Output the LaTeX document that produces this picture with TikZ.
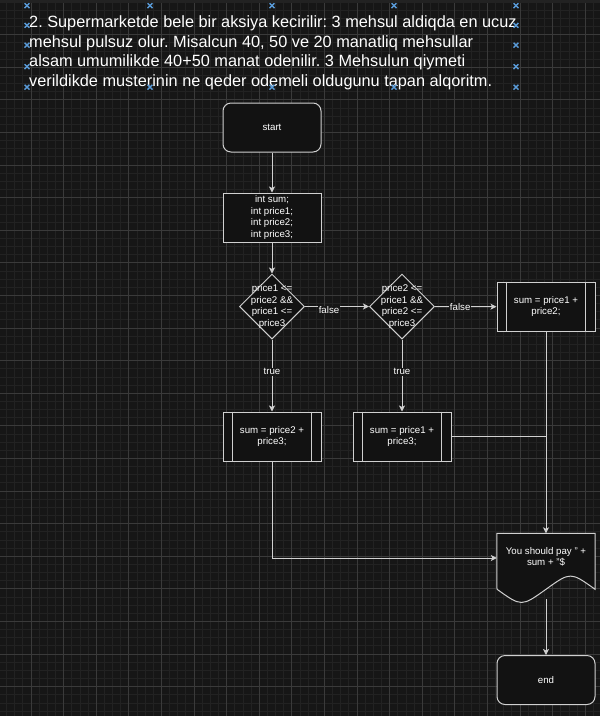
\documentclass[tikz,border=0pt]{standalone}
\usepackage{fontspec}
\setmainfont{Liberation Sans}
\usetikzlibrary{shapes.geometric,arrows.meta}
\frenchspacing
\definecolor{bg}{HTML}{161616}
\definecolor{topband}{HTML}{222222}
\definecolor{gridminor}{HTML}{222222}
\definecolor{gridmajor}{HTML}{3A3A3A}
\definecolor{shapefill}{HTML}{121212}
\definecolor{strokec}{HTML}{D0D0D0}
\definecolor{handlec}{HTML}{5A9BD8}
\tikzset{
  box/.style={draw=strokec, fill=shapefill, line width=1pt, rectangle, minimum width=98, minimum height=49, inner sep=0pt, text=white, font=\fontsize{9.7}{11.5}\selectfont, align=center},
  term/.style={box, rounded corners=8pt},
  decision/.style={draw=strokec, fill=shapefill, line width=1pt, diamond, aspect=1, minimum width=65, minimum height=65, inner sep=0pt},
  txt/.style={text=white, font=\fontsize{9.7}{11.4}\selectfont, align=center, inner sep=0pt},
  lbl/.style={text=white, font=\fontsize{9.7}{11.4}\selectfont, fill=bg, inner sep=0.6pt},
  conn/.style={draw=strokec, line width=1pt},
  arr/.style={conn, -{Stealth[length=6pt,width=6pt,inset=1.5pt]}},
  title/.style={text=white, font=\fontsize{16.3}{19.6}\selectfont, anchor=base west, inner sep=0pt},
  handle/.style={draw=handlec, line width=1.4pt}
}
\begin{document}
\begin{tikzpicture}[x=1pt,y=-1pt]
\useasboundingbox (0,0) rectangle (600,716);
\fill[bg] (0,0) rectangle (600,716);
% grid
\foreach \k in {0,...,73} {
  \draw[gridminor, line width=0.8pt] ({6.55+8.15*\k},0) -- ({6.55+8.15*\k},716);
}
\foreach \k in {0,...,88} {
  \draw[gridminor, line width=0.8pt] (0,{2+8.15*\k}) -- (600,{2+8.15*\k});
}
\foreach \k in {0,...,18} {
  \draw[gridmajor, line width=0.9pt] ({31+32.6*\k},0) -- ({31+32.6*\k},716);
}
\foreach \k in {0,...,22} {
  \draw[gridmajor, line width=0.9pt] (0,{2+32.6*\k}) -- (600,{2+32.6*\k});
}
\fill[topband] (0,0) rectangle (600,3);

% title
\node[title] (t1) at (29,27.3) {2. Supermarketde bele bir aksiya kecirilir: 3 mehsul aldiqda en ucuz};
\node[title] (t2) at (29,47.0) {mehsul pulsuz olur. Misalcun 40, 50 ve 20 manatliq mehsullar};
\node[title] (t3) at (29,66.7) {alsam umumilikde 40+50 manat odenilir. 3 Mehsulun qiymeti};
\node[title] (t4) at (29,86.3) {verildikde musterinin ne qeder odemeli oldugunu tapan alqoritm.};

% selection handles
\foreach \hx/\hy in {27/5.7,150/5.7,272/5.7,394/5.7,516/5.7,
                     27/25.3,27/45.2,27/66.7,27/87.2,
                     516/25.3,516/45.2,516/66.7,516/87.2,
                     150/87.2,272/87.2,394/87.2} {
  \draw[handle] (\hx-2.4,\hy-2.4) -- (\hx+2.4,\hy+2.4);
  \draw[handle] (\hx-2.4,\hy+2.4) -- (\hx+2.4,\hy-2.4);
}

% nodes
\node[term] (start) at (272,127.5) {start};
\node[box] (decl) at (272,217.5) {int sum;\\int price1;\\int price2;\\int price3;};
\node[decision] (d1) at (272,306.5) {};
\node[txt] (d1t) at (272,306.5) {price1 <=\\price2 \&\&\\price1 <=\\price3};
\node[decision] (d2) at (402,306.5) {};
\node[txt] (d2t) at (402,306.5) {price2 <=\\price1 \&\&\\price2 <=\\price3};
\node[box] (p3) at (546,306.7) {sum = price1 +\\price2;};
\node[box] (p1) at (272,436.5) {sum = price2 +\\price3;};
\node[box] (p2) at (402,436.5) {sum = price1 +\\price3;};
\foreach \n in {p1,p2,p3} {
  \draw[conn] ([xshift=9.8pt]\n.north west) -- ([xshift=9.8pt]\n.south west);
  \draw[conn] ([xshift=-9.8pt]\n.north east) -- ([xshift=-9.8pt]\n.south east);
}
% document shape
\node[minimum width=98, minimum height=65, inner sep=0pt] (doc) at (546,566) {};
\draw[conn, fill=shapefill] (doc.north west) -- (doc.north east) -- (595,589.25)
   .. controls (570.5,571.7) .. (546,589.25)
   .. controls (521.5,606.8) .. (497,589.25) -- cycle;
\node[txt] (doct) at (546,557) {You should pay " +\\sum + "\$};
\node[term] (end) at (546,680) {end};

% connectors
\draw[arr] (start.south) -- (decl.north);
\draw[arr] (decl.south) -- (d1.north);
\draw[arr] (d1.east) -- node[lbl, pos=0.375, yshift=-3.5pt] {false} (d2.west);
\draw[arr] (d2.east) -- node[lbl, pos=0.41] {false} (p3.west);
\draw[arr] (d1.south) -- node[lbl, pos=0.45] {true} (p1.north);
\draw[arr] (d2.south) -- node[lbl, pos=0.45] {true} (p2.north);
\draw[arr] (p3.south) -- (doc.north);
\draw[conn] (p2.east) -- (p2.east -| p3.south);
\draw[arr] (p1.south) |- ([yshift=8pt]doc.west);
\draw[arr] ([yshift=-0.5pt]doc.south) -- (end.north);
\end{tikzpicture}
\end{document}
